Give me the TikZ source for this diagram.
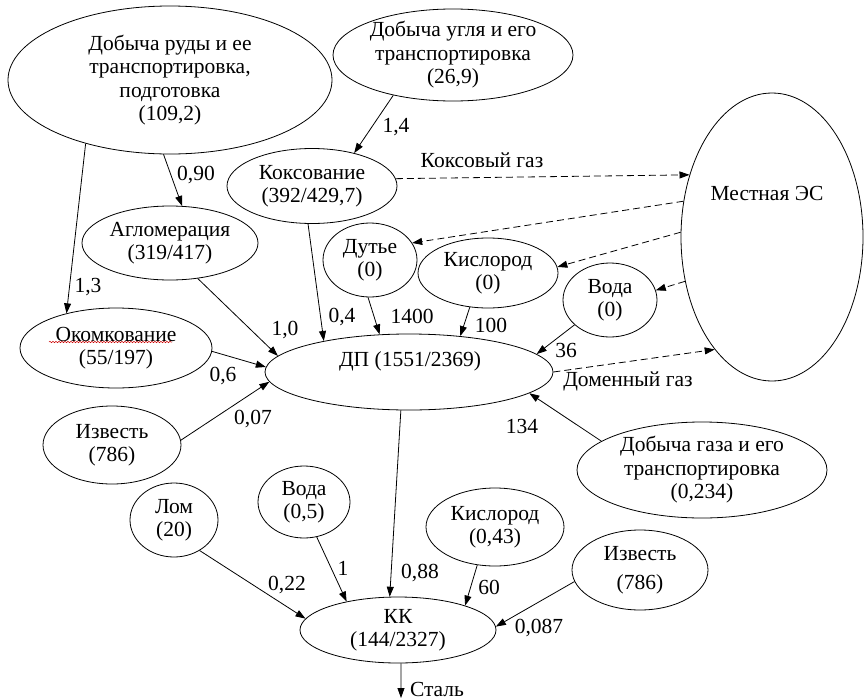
\documentclass[tikz,border=0pt]{standalone}
\usepackage{fontspec}
\setmainfont{Liberation Serif}
\usetikzlibrary{shapes.geometric,arrows.meta,decorations.pathmorphing}
\begin{document}
\begin{tikzpicture}[x=1pt,y=-1pt,
  every node/.style={font=\fontsize{21.5}{23.5}\selectfont},
  ell/.style={draw, ellipse, inner xsep=-20pt, inner ysep=-6pt, align=center, line width=0.8pt},
  arr/.style={line width=0.8pt, -{Triangle[length=10pt,width=7pt]}},
  darr/.style={arr, dash pattern=on 7pt off 4pt},
  lbl/.style={inner sep=0pt}]
\useasboundingbox (0,0) rectangle (865,699);
\fill[white] (0,0) rectangle (865,699);

\node[ell, minimum width=324pt, minimum height=148pt] (ore) at (170,80) {Добыча руды и ее\\транспортировка,\\подготовка\\(109,2)};
\node[ell, minimum width=240pt, minimum height=92pt] (coal) at (453,55) {Добыча угля и его\\транспортировка\\(26,9)};
\node[ell, minimum width=170pt, minimum height=75pt] (koks) at (312,186) {Коксование\\(392/429,7)};
\node[ell, minimum width=176pt, minimum height=74pt] (aglo) at (170,243) {Агломерация\\(319/417)};
\node[ell, minimum width=192pt, minimum height=80pt] (okom) at (116,348) {Окомкование\\(55/197)};
\node[ell, minimum width=288pt, minimum height=76pt] (dp) at (409,372) {};
\node[lbl] (dptext) at (410,361) {ДП (1551/2369)};
\node[ell, minimum width=94pt, minimum height=74pt] (dut) at (370,260) {Дутье\\(0)};
\node[ell, minimum width=140pt, minimum height=70pt] (kis) at (488,273) {Кислород\\(0)};
\node[ell, minimum width=94pt, minimum height=74pt] (voda) at (610,300) {Вода\\(0)};
\node[ell, minimum width=182pt, minimum height=288pt] (es) at (772,237) {};
\node[lbl] (estext) at (767,193) {Местная ЭС};
\node[ell, minimum width=138pt, minimum height=78pt] (izv1) at (112,445) {Известь\\(786)};
\node[ell, minimum width=88pt, minimum height=74pt] (lom) at (174,520) {Лом\\(20)};
\node[ell, minimum width=92pt, minimum height=72pt] (voda2) at (304,502) {Вода\\(0,5)};
\node[ell, minimum width=196pt, minimum height=66pt] (kk) at (398,630) {КК\\(144/2327)};
\node[ell, minimum width=138pt, minimum height=78pt] (kis2) at (495,527) {Кислород\\(0,43)};
\node[ell, minimum width=136pt, minimum height=80pt] (izv2) at (640,570) {Известь\\[5pt](786)};
\node[ell, minimum width=250pt, minimum height=96pt] (gas) at (702,470) {Добыча газа и его\\транспортировка\\(0,234)};

\draw[red!80!black, line width=0.5pt, decorate, decoration={snake, amplitude=0.7pt, segment length=3pt}] (49,342) -- (172,342);

\draw[arr] (ore.217) -- (okom.145);
\draw[arr] (ore.265) -- (aglo.72);
\draw[arr] (coal.214) -- (koks.38);
\draw[darr] (koks.5) -- (es.143);
\draw[darr] (es.158) -- (dut.22);
\draw[darr] (es.177) -- (kis.5);
\draw[darr] (es.207) -- (voda.12);
\draw[darr] (dp.0) -- (es.243);
\draw[arr] (koks.264) -- (dp.160);
\draw[arr] (dut.267) -- (dp.128);
\draw[arr] (kis.242) -- (dp.35);
\draw[arr] (voda.215) -- (dp.8);
\draw[arr] (aglo.308) -- (dp.173);
\draw[arr] (okom.358) -- (dp.178);
\draw[arr] (izv1.4) -- (dp.184);
\draw[arr] (gas.164) -- (dp.350);
\draw[arr] (dp.258) -- (kk.104);
\draw[arr] (lom.310) -- (kk.173);
\draw[arr] (voda2.290) -- (kk.151);
\draw[arr] (kis2.245) -- (kk.20);
\draw[arr] (izv2.190) -- (kk.2);
\coordinate (steel) at (401,698);
\draw[arr] (kk.275) -- (steel);

\node[lbl] (l1) at (88,287) {1,3};
\node[lbl] (l2) at (196,175) {0,90};
\node[lbl] (l3) at (396,127) {1,4};
\node[lbl] (l4) at (482,160) {Коксовый газ};
\node[lbl] (l5) at (628,381) {Доменный газ};
\node[lbl] (l6) at (342,317) {0,4};
\node[lbl] (l7) at (412,316) {1400};
\node[lbl] (l8) at (491,325) {100};
\node[lbl] (l9) at (566,350) {36};
\node[lbl] (l10) at (285,330) {1,0};
\node[lbl] (l11) at (223,376) {0,6};
\node[lbl] (l12) at (253,419) {0,07};
\node[lbl] (l13) at (522,426) {134};
\node[lbl] (l14) at (420,573) {0,88};
\node[lbl] (l15) at (287,585) {0,22};
\node[lbl] (l16) at (343,568) {1};
\node[lbl] (l17) at (489,587) {60};
\node[lbl] (l18) at (539,628) {0,087};
\node[lbl] (l19) at (437,689) {Сталь};
\end{tikzpicture}
\end{document}
